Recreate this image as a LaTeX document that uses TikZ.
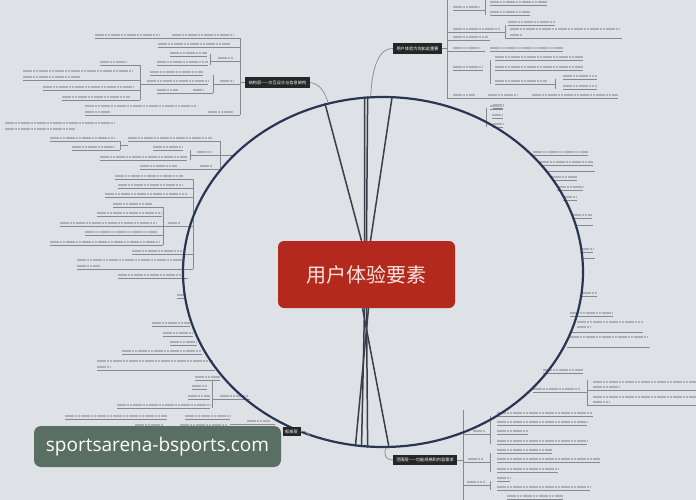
\documentclass[tikz,border=0pt]{standalone}
\usepackage{fontspec}
\newfontfamily\cjk{Noto Sans CJK SC}
\newfontfamily\wmfont{Open Sans}
\usetikzlibrary{shapes.geometric}
\definecolor{bgc}{HTML}{DEE2E6}
\definecolor{txtc}{HTML}{ADB1B6}
\definecolor{ulc}{HTML}{858A90}
\definecolor{ellc}{HTML}{2A3553}
\definecolor{inlc}{HTML}{3A3E48}
\definecolor{redc}{HTML}{B3291E}
\definecolor{redtxt}{HTML}{F4E4DF}
\definecolor{darklbl}{HTML}{262626}
\definecolor{wmc}{HTML}{5A6F63}
\tikzset{
  txtbar/.style={line width=2.2pt, color=txtc, dash pattern=on 2.6pt off 0.6pt},
  uline/.style={line width=0.6pt, color=ulc},
  conn/.style={line width=0.7pt, color=ulc},
  inl/.style={line width=1.5pt, color=inlc},
  lbl/.style={draw=none, fill=darklbl, text=white, inner sep=0pt, font=\cjk\fontsize{4.2}{5}\selectfont},
}
\newcommand{\mmtx}[3]{\draw[txtbar] (#1,#3) -- (#2,#3);}
\newcommand{\mmul}[3]{\draw[uline] (#1,#3) -- (#2,#3);}
\newcommand{\mmlf}[3]{\mmtx{#1}{#2}{#3}\mmul{#1}{#2}{#3+3}}
\newcommand{\mmvb}[3]{\draw[uline] (#1,#2) -- (#1,#3);}
\begin{document}
\begin{tikzpicture}[x=1pt,y=-1pt]
\useasboundingbox (0,0) rectangle (696,500);
\fill[bgc] (0,0) rectangle (696,500);

% ---------- top-left branch leaves ----------
\mmtx{95}{160}{35}\mmtx{172}{233}{35}\mmul{95}{240}{38}
\mmlf{158}{230}{44}\mmul{230}{240}{47}
\mmlf{170}{207}{53}
\mmlf{157}{208}{62}
\mmvb{210}{54}{65}
\mmtx{218}{233}{58}\mmul{210}{240}{61}
\mmlf{100}{127}{62}\mmul{127}{140}{65}
\mmlf{150}{203}{72}
\mmtx{23}{133}{71}\mmtx{23}{80}{77}\mmul{23}{140}{80}
\mmlf{147}{208}{81}\mmtx{220}{233}{81}\mmul{213}{240}{84}
\mmvb{213}{75}{93}
\mmlf{43}{133}{87}\mmul{133}{140}{90}
\mmtx{157}{178}{90}\mmtx{193}{203}{90}\mmul{157}{213}{93}
\mmlf{62}{130}{97}\mmul{130}{140}{100}
\mmvb{140}{65}{100}
\draw[uline] (140,84) -- (147,84);
\mmtx{85}{197}{106}\mmtx{85}{110}{112}\mmtx{208}{233}{112}\mmul{85}{240}{115}
\mmvb{240}{38}{115}

% ---------- left middle leaves ----------
\mmtx{5}{115}{123}\mmtx{5}{75}{129}
\mmlf{50}{115}{138}\mmul{115}{120}{141}
\mmtx{72}{115}{147}\mmul{72}{120}{150}
\mmvb{120}{141}{150}
\draw[uline] (120,145) -- (128,145);
\mmlf{128}{212}{138}\mmul{212}{220}{141}
\mmlf{153}{183}{147}
\mmtx{197}{212}{152}\mmul{190}{220}{155}
\mmlf{100}{187}{157}
\mmvb{190}{150}{160}
\mmlf{140}{177}{166}\mmtx{200}{212}{166}\mmul{140}{220}{169}
\mmvb{220}{141}{169}
\draw[uline] (220,155) -- (234,155);
\mmlf{115}{183}{176}\mmul{183}{193}{179}
\mmlf{118}{183}{185}\mmul{183}{193}{188}
\mmlf{105}{187}{194}\mmul{187}{193}{197}
\mmlf{113}{152}{204}\mmul{152}{163}{207}
\mmlf{97}{162}{213}
\mmlf{60}{157}{223}\mmul{157}{163}{226}
\mmtx{168}{180}{223}\mmul{163}{193}{226}
\mmlf{85}{157}{232}\mmul{157}{163}{235}
\mmlf{50}{160}{242}\mmul{160}{163}{245}
\mmvb{163}{207}{245}
\mmlf{132}{182}{251}\mmul{182}{193}{254}
\mmtx{77}{183}{260}\mmtx{77}{100}{266}\mmul{77}{193}{269}
\mmvb{193}{179}{269}
\mmlf{118}{182}{275}\mmul{182}{188}{278}
\mmlf{177}{185}{295}
\mmlf{152}{190}{323}
\mmlf{163}{193}{333}
\mmlf{170}{197}{342}
\mmlf{122}{202}{351}
\mmtx{97}{213}{361}\mmtx{97}{110}{367}\mmul{97}{215}{370}
\mmlf{195}{220}{377}
\mmlf{192}{207}{386}
\mmlf{188}{210}{396}
\mmlf{117}{210}{405}
\mmvb{212}{380}{408}
\mmtx{220}{248}{396}\mmul{212}{250}{399}
\mmlf{65}{167}{416}\mmlf{185}{230}{416}
\mmlf{135}{163}{425}\mmlf{180}{228}{425}
\mmtx{247}{270}{421}\mmul{230}{275}{424}
\mmlf{135}{233}{434}\mmlf{250}{270}{434}

% ---------- top-right branch leaves ----------
\mmvb{447}{0}{98}
\mmlf{490}{547}{2}
\mmlf{453}{480}{7}\mmul{480}{485}{10}
\mmlf{490}{530}{12}
\mmvb{485}{0}{15}
\mmlf{508}{555}{22}
\mmtx{453}{500}{29}\mmul{447}{505}{32}
\mmtx{510}{620}{29}\mmtx{510}{522}{35}\mmul{505}{622}{38}
\mmvb{505}{25}{38}
\mmlf{453}{488}{37}\mmul{447}{490}{40}
\mmtx{453}{480}{48}\mmul{447}{485}{51}
\mmlf{490}{563}{48}
\mmlf{495}{583}{57}
\mmlf{453}{483}{67}\mmlf{495}{583}{67}
\mmlf{563}{597}{76}
\mmlf{495}{547}{81}\mmul{547}{555}{84}
\mmlf{563}{597}{86}
\mmvb{555}{79}{89}
\mmvb{490}{60}{84}
\mmtx{453}{475}{95}\mmtx{488}{517}{95}\mmtx{532}{618}{95}\mmul{447}{618}{98}
\mmlf{490}{503}{106}

% ---------- right middle leaves ----------
\mmlf{493}{503}{105}
\mmlf{492}{503}{115}
\mmlf{493}{503}{124}
\mmvb{486}{108}{127}
\mmlf{533}{588}{152}
\mmlf{540}{593}{162}
\mmul{547}{595}{171}
\mmlf{552}{577}{177}
\mmlf{557}{583}{187}
\mmlf{563}{577}{197}
\mmlf{572}{592}{215}
\mmul{577}{593}{225}
\mmlf{580}{593}{249}
\mmul{583}{595}{258}
\mmlf{582}{597}{293}
\mmlf{570}{613}{313}
\mmtx{577}{643}{322}\mmtx{577}{590}{327}\mmul{572}{643}{332}
\mmtx{570}{647}{337}\mmul{567}{650}{347}

% ---------- right bottom leaves ----------
\mmlf{543}{583}{370}
\mmtx{533}{580}{389}\mmul{533}{587}{392}
\mmtx{593}{697}{382}\mmtx{593}{620}{387}\mmul{587}{697}{390}
\mmtx{593}{697}{397}\mmtx{593}{610}{402}\mmul{587}{697}{405}
\mmvb{587}{380}{405}
\mmlf{497}{593}{413}
\mmlf{497}{587}{422}
\mmtx{473}{485}{431}\mmul{463}{490}{434}
\mmlf{497}{528}{431}
\mmlf{497}{587}{441}
\mmvb{490}{416}{444}
\mmlf{497}{552}{450}
\mmtx{468}{483}{459}\mmul{463}{490}{462}
\mmlf{497}{600}{459}
\mmlf{497}{558}{469}
\mmvb{490}{453}{472}
\mmlf{497}{510}{478}
\mmtx{467}{485}{482}\mmul{463}{490}{485}
\mmlf{497}{590}{487}
\mmvb{490}{481}{490}
\mmlf{507}{563}{496}
\mmvb{463}{410}{500}

% ---------- main shapes ----------
\node[draw=ellc, line width=2.2pt, ellipse, minimum width=400pt, minimum height=350pt, inner sep=0pt] (ell) at (383,272) {};
\node[fill=redc, rounded corners=6pt, minimum width=177pt, minimum height=67pt, inner sep=0pt,
      text=redtxt, font=\cjk\fontsize{20}{24}\selectfont] (core) at (366.5,274.5) {用户体验要素};

\draw[inl] ([xshift=-5pt]core.north) -- (ell.109.5);
\draw[inl] ([xshift=-2pt]core.north) -- (ell.96.5);
\draw[inl] ([xshift=0pt]core.north) -- (ell.95);
\draw[inl] ([xshift=4pt]core.north) -- (ell.87.7);
\draw[inl] ([xshift=2pt]core.south) -- (ell.261);
\draw[inl] ([xshift=-2pt]core.south) -- (ell.263.5);
\draw[inl] ([xshift=0pt]core.south) -- (ell.265);
\draw[inl] ([xshift=-4pt]core.south) -- (ell.272);

% ---------- branch labels ----------
\node[lbl, minimum width=65pt, minimum height=11pt] (tl) at (277.5,82.5) {结构层——交互设计与信息架构};
\node[lbl, minimum width=49pt, minimum height=11pt] (tr) at (417.5,48.5) {用户体验为何如此重要};
\node[lbl, minimum width=64pt, minimum height=10pt] (bot) at (425,460) {范围层——功能规格和内容需求};
\node[lbl, minimum width=18pt, minimum height=9pt] (bl) at (291.5,431.5) {框架层};

\draw[conn] (tl.east) .. controls (320,84) and (325,92) .. (ell.108);
\draw[conn] (ell.94) .. controls (372,65) and (380,48) .. (tr.west);
\draw[conn] (ell.271) .. controls (383,455) and (386,460) .. (bot.west);
\draw[conn] (bl.east) .. controls (305,431) .. (ell.246);
\draw[uline] (240,82.5) -- (tl.west);
\draw[uline] (tr.east) -- (447,48.5);
\draw[uline] (bot.east) -- (463,460);

% ---------- watermark ----------
\node[fill=wmc, rounded corners=7pt, minimum width=247pt, minimum height=41pt, inner sep=0pt,
      text=white, font=\wmfont\fontsize{19}{22}\selectfont] (wm) at (157.5,446.5) {sportsarena-bsports.com};
\end{tikzpicture}
\end{document}
